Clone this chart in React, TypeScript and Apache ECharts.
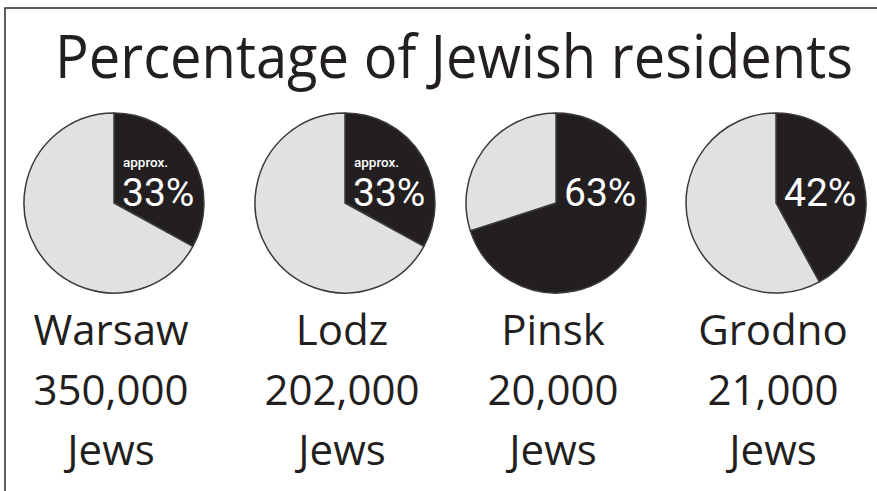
import React, { useEffect, useRef } from "react";
import * as echarts from "echarts";

// ---- data ----
const cities = ["Warsaw", "Lodz", "Pinsk", "Grodno"];
const jewishResidents = [350000, 202000, 20000, 21000];
// share of the circle drawn dark in the picture (percent)
const jewishShareDrawn = [33, 33, 70, 42];
// percentage text printed inside each pie
const shareLabels = ["33%", "33%", "63%", "42%"];
const approximate = [true, true, false, false];
const titleText = "Percentage of Jewish residents";

// ---- layout ----
const W = 877;
const H = 491;
const pieCX = [114, 345, 556, 776];
const pieCY = 203;
const pieR = 90;
const DARK = "#231f20";
const LIGHT = "#e0e1e3";
const FONT = "'Open Sans', 'Noto Sans', sans-serif";
const INNER_FONT = "Roboto, 'Open Sans', sans-serif";

export default function App() {
  const ref = useRef<HTMLDivElement>(null);

  useEffect(() => {
    document.body.style.margin = "0";
    if (!ref.current) return;
    const chart = echarts.init(ref.current, null, { renderer: "svg" });

    const series: any[] = cities.map((city, i) => ({
      type: "pie",
      name: city,
      center: [pieCX[i], pieCY],
      radius: [0, pieR],
      startAngle: 90,
      clockwise: true,
      silent: true,
      label: { show: false },
      labelLine: { show: false },
      emphasis: { disabled: true },
      itemStyle: { borderColor: "#3a3a3a", borderWidth: 1.5 },
      data: [
        { name: "Jewish", value: jewishShareDrawn[i], itemStyle: { color: DARK } },
        { name: "Other", value: 100 - jewishShareDrawn[i], itemStyle: { color: LIGHT } },
      ],
    }));

    const graphics: any[] = [
      {
        type: "rect",
        silent: true,
        shape: { x: 5, y: 8, width: W + 20, height: H + 20 },
        style: { fill: "none", stroke: "#2a2a2a", lineWidth: 1.5 },
      },
      {
        type: "text",
        silent: true,
        x: 454,
        y: 55,
        scaleX: 0.935,
        originX: 0,
        originY: 0,
        style: {
          text: titleText,
          fontFamily: FONT,
          fontSize: 60,
          lineHeight: 60,
          fill: DARK,
          align: "center",
          verticalAlign: "middle",
        },
      },
    ];

    cities.forEach((city, i) => {
      const cx = pieCX[i];
      if (approximate[i]) {
        graphics.push({
          type: "text",
          silent: true,
          z: 100,
          x: cx + 9,
          y: 162,
          style: {
            text: "approx.",
            fontFamily: INNER_FONT,
            fontSize: 13.5,
            lineHeight: 13,
            fontWeight: 500,
            fill: "#ffffff",
            align: "left",
            verticalAlign: "middle",
          },
        });
      }
      graphics.push({
        type: "text",
        silent: true,
        z: 100,
        x: cx + 8,
        y: 193,
        style: {
          text: shareLabels[i],
          fontFamily: INNER_FONT,
          fontSize: 39,
          lineHeight: 28,
          fill: "#ffffff",
          align: "left",
          verticalAlign: "middle",
        },
      });
      const lines = [city, jewishResidents[i].toLocaleString("en-US"), "Jews"];
      lines.forEach((t, k) => {
        graphics.push({
          type: "text",
          silent: true,
          x: cx - 3,
          y: 328 + k * 60,
          style: {
            text: t,
            fontFamily: FONT,
            fontSize: 42,
            lineHeight: 44,
            fill: DARK,
            align: "center",
            verticalAlign: "middle",
          },
        });
      });
    });

    chart.setOption({
      animation: false,
      backgroundColor: "#ffffff",
      series,
      graphic: graphics,
    });

    return () => chart.dispose();
  }, []);

  return <div ref={ref} style={{ width: W, height: H }} />;
}
